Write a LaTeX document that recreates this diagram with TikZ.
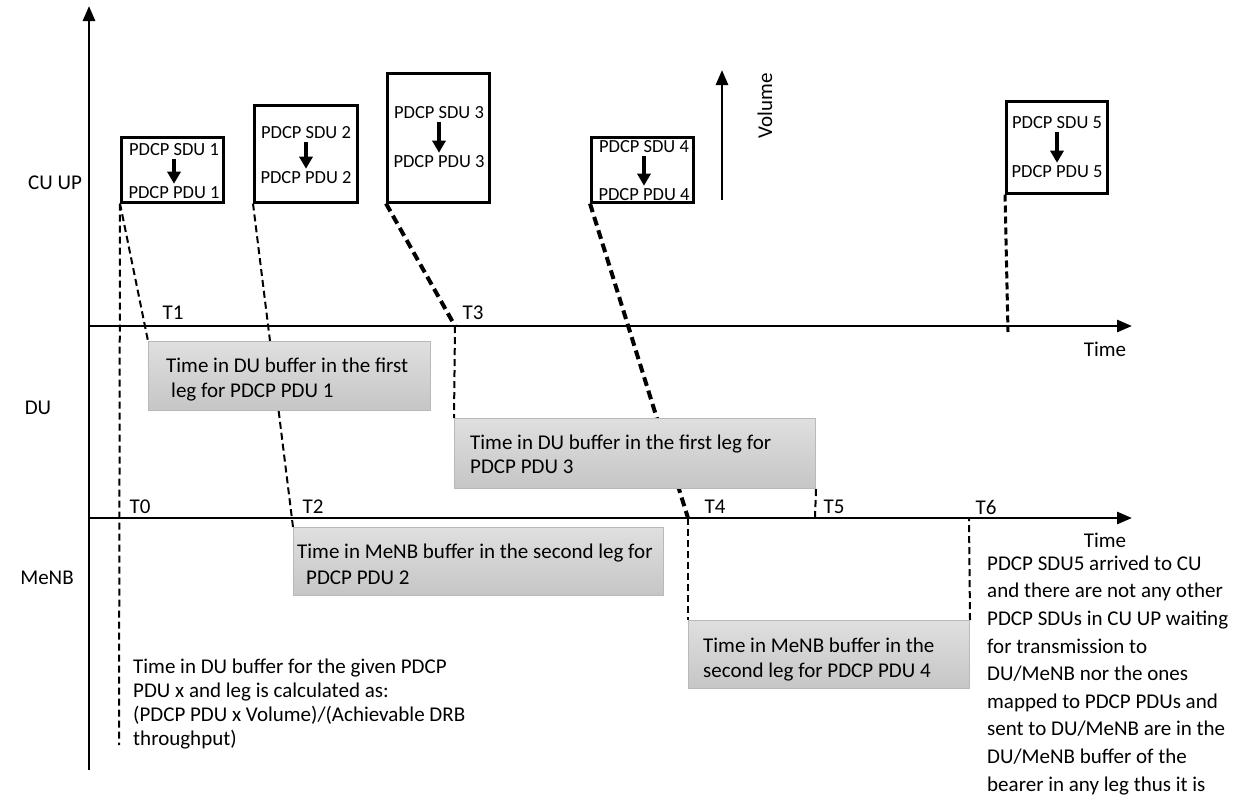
\documentclass[tikz,border=0pt]{standalone}
\usepackage{fontspec}
\setmainfont{Carlito}
\usetikzlibrary{arrows.meta}
\pgfdeclarelayer{background}
\pgfsetlayers{background,main}
\tikzstyle{pdcpbox} = [rectangle, draw=black, line width=2.5pt, fill=white, anchor=north west, inner sep=0pt]
\tikzstyle{buffer} = [rectangle, draw=gray!55, line width=1pt, top color=gray!25, bottom color=gray!45, anchor=north west, inner sep=0pt]
\tikzstyle{lbl} = [inner sep=0pt, font=\fontsize{21}{25}\selectfont]
\tikzstyle{note} = [inner sep=0pt, align=left, anchor=base west, font=\fontsize{21}{24}\selectfont]
\tikzstyle{boxtxt} = [inner sep=0pt, font=\fontsize{18.5}{22}\selectfont]
\tikzstyle{axis} = [line width=2.8pt,-{Triangle[length=15pt,width=12pt]}]
\tikzstyle{down} = [line width=3.5pt,-{Triangle[length=12pt,width=13pt]},shorten <=3pt,shorten >=3pt]
\tikzstyle{leg} = [line width=2pt, dash pattern=on 7pt off 4pt]
\tikzstyle{legthick} = [line width=4pt, dash pattern=on 9pt off 5pt]

\begin{document}
\begin{tikzpicture}[x=1pt,y=-1pt]
    \useasboundingbox (0,0) rectangle (1242,801);

    % axes
    \coordinate (origin) at (89,770);
    \coordinate (ytip) at (89,6);
    \coordinate (du0) at (89,326);
    \coordinate (du1) at (1132,326);
    \coordinate (menb0) at (89,518);
    \coordinate (menb1) at (1132,518);
    \draw [axis] (origin) -- (ytip);
    \draw [axis] (du0) -- (du1);
    \draw [axis] (menb0) -- (menb1);

    \node (cuup) [lbl] at (55,183) {CU UP};
    \node (du) [lbl] at (38,408) {DU};
    \node (menb) [lbl] at (47,578) {MeNB};
    \node (time1) [lbl] at (1105,349) {Time};
    \node (time2) [lbl] at (1105,540) {Time};

    % PDCP boxes in CU UP
    \node (pdcp1) [pdcpbox, minimum width=102, minimum height=65] at (120,136) {};
    \node (pdcp2) [pdcpbox, minimum width=103, minimum height=97] at (253,104) {};
    \node (pdcp3) [pdcpbox, minimum width=102, minimum height=129] at (386,72) {};
    \node (pdcp4) [pdcpbox, minimum width=102, minimum height=65] at (590,136) {};
    \node (pdcp5) [pdcpbox, minimum width=101, minimum height=92] at (1005,100) {};

    \node (sdu1) [boxtxt] at (174,150) {PDCP SDU 1};
    \node (pdu1) [boxtxt] at (174,193) {PDCP PDU 1};
    \node (sdu2) [boxtxt] at (306,133) {PDCP SDU 2};
    \node (pdu2) [boxtxt] at (306,178) {PDCP PDU 2};
    \node (sdu3) [boxtxt] at (439,113) {PDCP SDU 3};
    \node (pdu3) [boxtxt] at (439,162) {PDCP PDU 3};
    \node (sdu4) [boxtxt] at (644,147) {PDCP SDU 4};
    \node (pdu4) [boxtxt] at (644,195) {PDCP PDU 4};
    \node (sdu5) [boxtxt] at (1057,123) {PDCP SDU 5};
    \node (pdu5) [boxtxt] at (1057,172) {PDCP PDU 5};
    \foreach \i in {1,...,5}
        \draw [down] (sdu\i) -- (pdu\i);

    % volume
    \coordinate (vbase) at (722,200);
    \coordinate (vtip) at (722,70);
    \draw [axis] (vbase) -- (vtip);
    \node (volume) [lbl, rotate=90] at (765,106) {Volume};

    % buffer boxes
    \node (buf1) [buffer, minimum width=282, minimum height=69] at (148,341) {};
    \node (buf2) [buffer, minimum width=361, minimum height=70] at (454,418) {};
    \node (buf3) [buffer, minimum width=370, minimum height=68] at (293,527) {};
    \node (buf4) [buffer, minimum width=281, minimum height=68] at (688,620) {};

    \node (buf1txt) [note, font=\fontsize{21}{25}\selectfont] at (166,397) {Time in DU buffer in the first\\\hspace{5pt}leg for PDCP PDU 1};
    \node (buf2txt) [note] at (470,473) {Time in DU buffer in the first leg for\\PDCP PDU 3};
    \node (buf3txt) [note, font=\fontsize{21}{26}\selectfont] at (297,584) {Time in MeNB buffer in the second leg for\\\hspace{9pt}PDCP PDU 2};
    \node (buf4txt) [note, font=\fontsize{21}{25}\selectfont] at (703,677) {Time in MeNB buffer in the\\second leg for PDCP PDU 4};

    % time marks
    \coordinate (t0end) at (119,745);
    \coordinate (t3) at (455,326);
    \coordinate (t4) at (688,518);
    \coordinate (t5) at (815,518);
    \coordinate (t6) at (969,518);
    \coordinate (sdu5end) at (1008,332);
    \node (T0) [lbl] at (140,507) {T0};
    \node (T1) [lbl] at (173,313) {T1};
    \node (T2) [lbl] at (313,507) {T2};
    \node (T3) [lbl] at (473,313) {T3};
    \node (T4) [lbl] at (715,507) {T4};
    \node (T5) [lbl] at (834,507) {T5};
    \node (T6) [lbl] at (986,507) {T6};

    \begin{pgfonlayer}{background}
        \draw [leg] (pdcp1.south west) -- (t0end);
        \draw [leg] (pdcp1.south west) -- (buf1.north west);
        \draw [leg] (pdcp2.south west) -- (buf3.north west);
        \draw [legthick] (pdcp3.south west) -- (t3);
        \draw [leg] (t3) -- (buf2.north west);
        \draw [legthick] (pdcp4.south west) -- (t4);
        \draw [leg] (t4) -- (buf4.north west);
        \draw [leg] (buf2.south east) -- (t5);
        \draw [leg] (buf4.north east) -- (t6);
        \draw [leg, line width=3pt] (pdcp5.south west) -- (sdu5end);
    \end{pgfonlayer}

    % notes
    \node (calc) [note] at (133,745) {Time in DU buffer for the given PDCP\\PDU x and leg is calculated as:\\(PDCP PDU x Volume)/(Achievable DRB\\throughput)};
    \node (sdu5note) [note, font=\fontsize{21}{27.6}\selectfont] at (987,791) {PDCP SDU5 arrived to CU\\and there are not any other\\PDCP SDUs in CU UP waiting\\for transmission to\\DU/MeNB nor the ones\\mapped to PDCP PDUs and\\sent to DU/MeNB are in the\\DU/MeNB buffer of the\\bearer in any leg thus it is};

\end{tikzpicture}
\end{document}
